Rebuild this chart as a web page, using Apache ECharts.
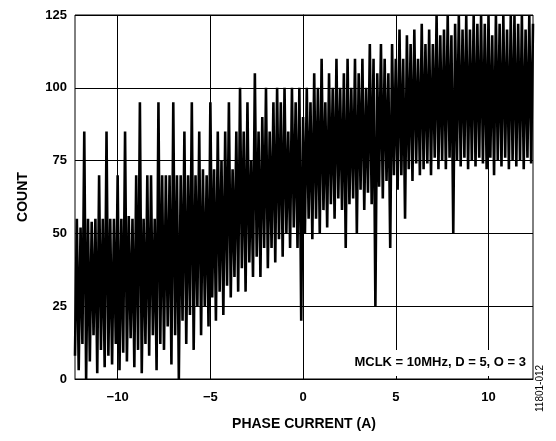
<!DOCTYPE html>
<html><head><meta charset="utf-8">
<script src="https://cdn.jsdelivr.net/npm/echarts@6/dist/echarts.min.js"></script>
<style>html,body{margin:0;padding:0;background:#fff}#c{width:556px;height:441px}</style>
</head><body><div id="c"></div>
<script>
const xStart = -12.3, xStep = 0.1;
const xTicks = [-10, -5, 0, 5, 10];
const yTicks = [0, 25, 50, 75, 100, 125];
const counts = [
8,55,3,52,12,85,0,55,6,54,
15,55,2,70,10,55,4,85,8,55,
5,55,12,70,3,55,9,85,6,56,
14,55,4,70,10,95,2,55,12,70,
8,70,15,55,3,95,12,70,10,70,
18,70,5,95,15,70,0,70,20,85,
12,70,22,95,10,70,25,85,15,72,
25,70,18,95,28,72,20,85,30,75,
22,85,32,95,28,72,35,85,30,100,
38,85,30,95,40,75,35,105,42,85,
35,90,45,100,38,85,45,95,40,100,
48,95,42,100,50,85,45,100,52,95,
45,100,20,90,50,100,55,95,48,105,
55,100,50,110,58,95,52,105,60,100,
55,110,62,100,58,105,45,110,60,100,
62,110,50,105,65,110,58,100,64,115,
60,110,25,105,66,115,62,110,68,105,
45,115,70,110,65,120,70,110,55,118,
72,115,68,120,74,110,70,122,72,115,
74,120,70,115,76,125,72,118,75,120,
72,125,76,118,50,122,75,125,73,120,
76,125,72,120,75,125,73,122,76,125,
74,122,72,125,76,118,70,125,75,122,
73,125,76,120,72,125,75,125,73,122,
75,125,72,120,76,125,74,122
];
const data = counts.map((v, i) => [+(xStart + i * xStep).toFixed(2), v]);
const F = 'Liberation Sans, Arial, sans-serif';
const chart = echarts.init(document.getElementById('c'));
chart.setOption({
  animation: false,
  grid: {left: 75, right: 23, top: 15, bottom: 62, show: true, borderColor: '#000', borderWidth: 1},
  xAxis: {type: 'value', min: -12.3, max: 12.4,
    name: 'PHASE CURRENT (A)', nameLocation: 'middle', nameGap: 38,
    nameTextStyle: {fontFamily: F, fontWeight: 'bold', fontSize: 14, color: '#000'},
    axisLine: {lineStyle: {color: '#000'}},
    axisTick: {show: false, customValues: xTicks},
    axisLabel: {customValues: xTicks, fontFamily: F, fontWeight: 'bold', fontSize: 13, color: '#000', margin: 12,
      formatter: v => v < 0 ? '\u2212' + Math.abs(v) : String(v)},
    splitLine: {show: true, lineStyle: {color: '#000', width: 1}}},
  yAxis: {type: 'value', min: 0, max: 125, interval: 25,
    name: 'COUNT', nameLocation: 'middle', nameGap: 45,
    nameTextStyle: {fontFamily: F, fontWeight: 'bold', fontSize: 14, color: '#000'},
    axisLine: {lineStyle: {color: '#000'}}, axisTick: {show: false},
    axisLabel: {fontFamily: F, fontWeight: 'bold', fontSize: 13, color: '#000', margin: 8},
    splitLine: {show: true, lineStyle: {color: '#000', width: 1}}},
  series: [{type: 'line', data: data, symbol: 'none', lineStyle: {color: '#000', width: 2.6}}],
  graphic: [
    {type: 'rect', right: 24, top: 350, shape: {width: 215, height: 26}, style: {fill: '#fff'}, z: 100},
    {type: 'text', right: 30, top: 356, z: 101, style: {text: 'MCLK = 10MHz, D = 5, O = 3', font: 'bold 13px ' + F, fill: '#000'}},
    {type: 'text', x: 540, y: 412, rotation: Math.PI / 2, z: 101, style: {text: '11801-012', font: '10px ' + F, fill: '#000', verticalAlign: 'middle', align: 'left'}}
  ]
});
</script></body></html>
